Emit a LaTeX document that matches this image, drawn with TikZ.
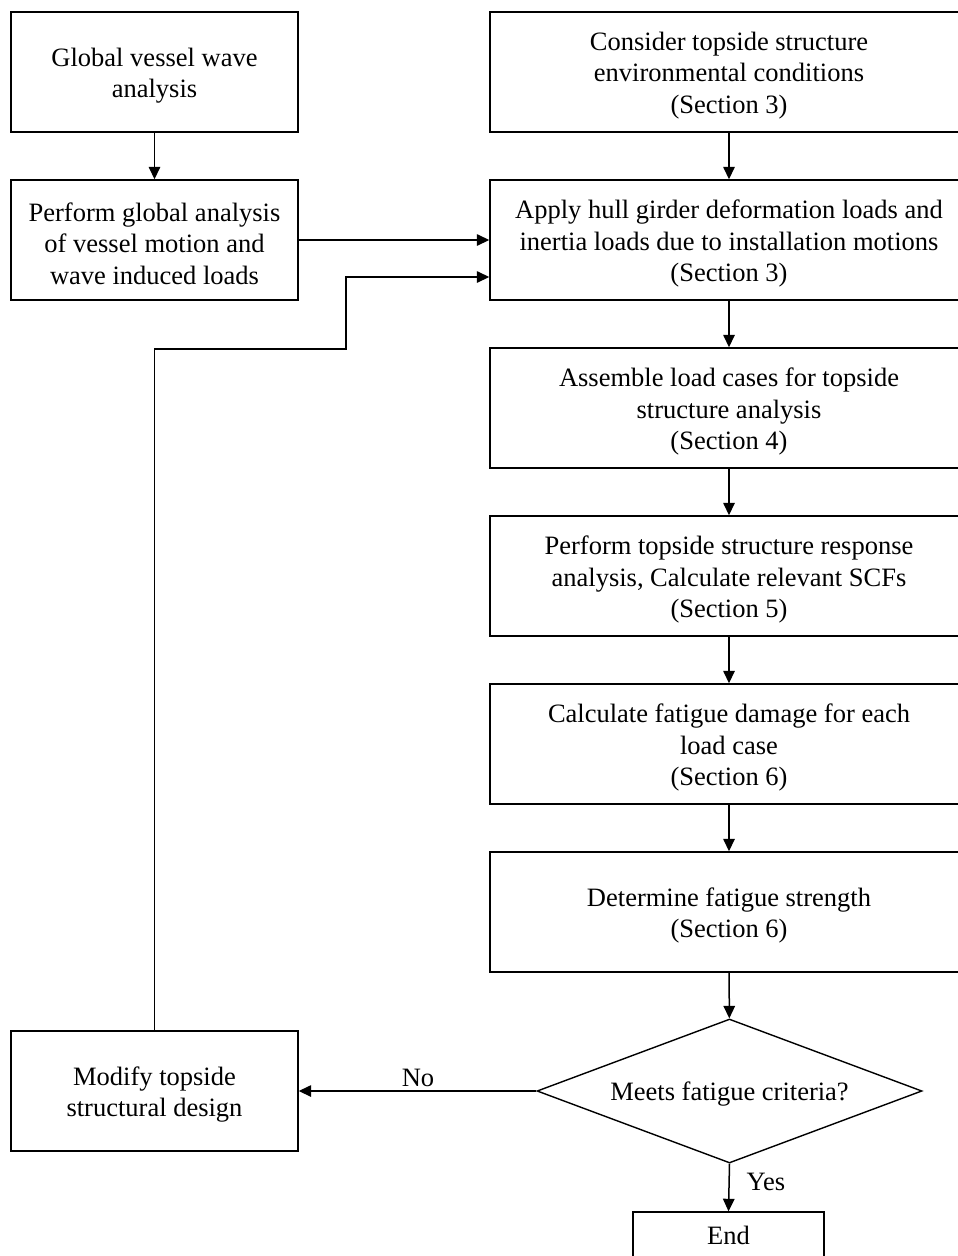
\documentclass[tikz,border=0pt]{standalone}
\usepackage{fontspec}
\setmainfont{Liberation Serif}
\usetikzlibrary{arrows.meta,shapes.geometric}
\begin{document}
\begin{tikzpicture}[x=1pt,y=-1pt,
  txt/.style={font=\fontsize{26.5}{31.5}\selectfont},
  box/.style={draw,line width=1.4pt,minimum width=287pt,minimum height=120pt,inner sep=0pt,
    label={[txt,align=center,yshift=-3.5pt]center:{#1}}},
  wbox/.style={box={#1},minimum width=478pt},
  endbox/.style={draw,line width=1.4pt,minimum width=191pt,minimum height=46pt,inner sep=0pt,
    label={[txt,align=center]center:{#1}}},
  dec/.style={draw,diamond,line width=1.4pt,minimum width=385pt,minimum height=144pt,inner sep=0pt,aspect=2.67,
    label={[txt,align=center,yshift=-3pt]center:{#1}}},
  arr/.style={-{Triangle[length=12.5pt,width=11.5pt]},line width=1.5pt}]
\useasboundingbox (0,0) rectangle (958,1256);
\clip (0,0) rectangle (958,1256);
\node[box={Global vessel wave\\analysis}] (L1) at (154.5,72) {};
\node[box={Perform global analysis\\of vessel motion and\\wave induced loads}] (L2) at (154.5,240) {};
\node[wbox={Consider topside structure\\environmental conditions\\(Section 3)}] (R1) at (729,72) {};
\node[wbox={Apply hull girder deformation loads and\\inertia loads due to installation motions\\(Section 3)}] (R2) at (729,240) {};
\node[wbox={Assemble load cases for topside\\structure analysis\\(Section 4)}] (R3) at (729,408) {};
\node[wbox={Perform topside structure response\\analysis, Calculate relevant SCFs\\(Section 5)}] (R4) at (729,576) {};
\node[wbox={Calculate fatigue damage for each\\load case\\(Section 6)}] (R5) at (729,744) {};
\node[wbox={Determine fatigue strength\\(Section 6)}] (R6) at (729,912) {};
\node[dec={Meets fatigue criteria?}] (D) at (729.5,1091) {};
\node[box={Modify topside\\structural design}] (M) at (154.5,1091) {};
\node[endbox={End}] (E) at (728.5,1235) {};
\node[txt] (no) at (418,1078) {No};
\node[txt] (yes) at (766,1182) {Yes};
\coordinate (c1) at (154.5,349);
\coordinate (c2) at (346,349);
\coordinate (c3) at (346,277);
\draw[arr] (L1) -- (L2);
\draw[arr] (L2.east) -- (L2.east -| R2.west);
\draw[arr] (R1) -- (R2);
\draw[arr] (R2) -- (R3);
\draw[arr] (R3) -- (R4);
\draw[arr] (R4) -- (R5);
\draw[arr] (R5) -- (R6);
\draw[arr] (R6) -- (D);
\draw[arr] (D.south) -- (E.north);
\draw[arr] (D.west) -- (M.east);
\draw[arr] (M.north) -- (c1) -- (c2) -- (c3) -- (c3 -| R2.west);
\end{tikzpicture}
\end{document}
